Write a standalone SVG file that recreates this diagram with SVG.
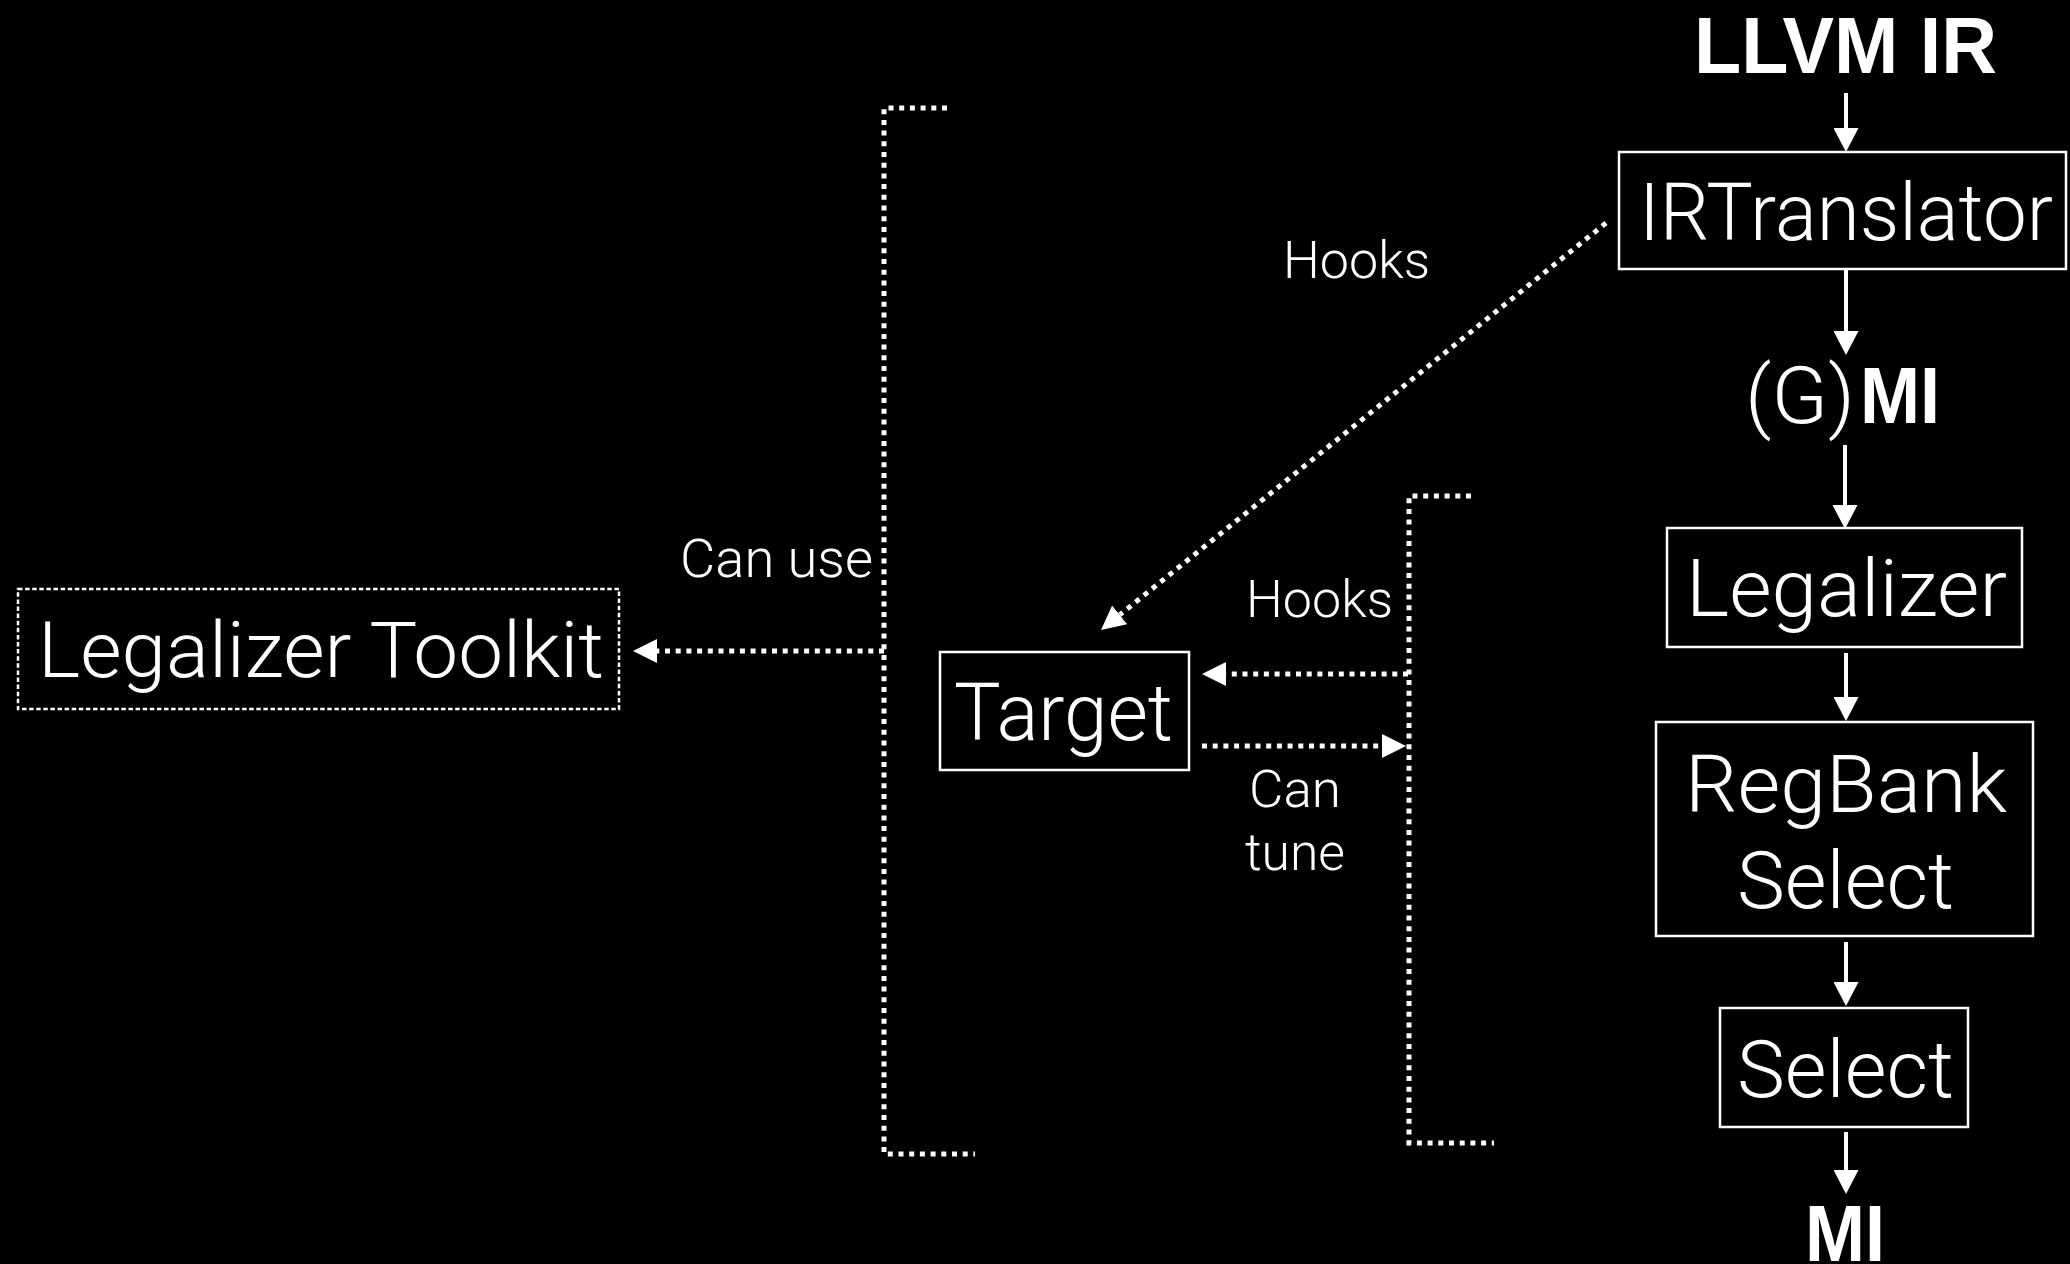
<svg xmlns="http://www.w3.org/2000/svg" width="2070" height="1264" viewBox="0 0 2070 1264">
  <defs>
    <style>
      .lt { font-family: Roboto, "Liberation Sans", sans-serif; font-weight: 300; fill: #fff; }
      .bd { font-family: "Liberation Sans", Arial, sans-serif; font-weight: 700; fill: #fff; }
      .box { fill: none; stroke: #fff; stroke-width: 2.5; }
      .solid { fill: none; stroke: #fff; stroke-width: 4; }
      .dot { fill: none; stroke: #fff; stroke-width: 5; stroke-dasharray: 5 5.7; }
    </style>
    <marker id="ah" viewBox="0 -12 24 24" refX="0" refY="0" markerWidth="24" markerHeight="24" markerUnits="userSpaceOnUse" orient="auto">
      <path d="M0,-12 L24,0 L0,12 Z" fill="#fff"/>
    </marker>
    <marker id="ahs" viewBox="0 -12.5 24 25" refX="0" refY="0" markerWidth="24" markerHeight="25" markerUnits="userSpaceOnUse" orient="auto">
      <path d="M0,-12.5 L24,0 L0,12.5 Z" fill="#fff"/>
    </marker>
  </defs>
  <rect x="0" y="0" width="2070" height="1264" fill="#000"/>

  <g id="connectors">
    <line class="solid" x1="1846" y1="93" x2="1846" y2="128" marker-end="url(#ahs)"/>
    <line class="solid" x1="1846" y1="270" x2="1846" y2="331" marker-end="url(#ahs)"/>
    <line class="solid" x1="1845" y1="445" x2="1845" y2="505" marker-end="url(#ahs)"/>
    <line class="solid" x1="1846" y1="653" x2="1846" y2="697" marker-end="url(#ahs)"/>
    <line class="solid" x1="1846" y1="942" x2="1846" y2="982" marker-end="url(#ahs)"/>
    <line class="solid" x1="1846" y1="1132" x2="1846" y2="1170" marker-end="url(#ahs)"/>
    <line class="dot" x1="1606" y1="223" x2="1119.7" y2="614.9" marker-end="url(#ah)"/>
    <line class="dot" x1="1408" y1="674" x2="1226" y2="674" marker-end="url(#ah)"/>
    <line class="dot" x1="1202" y1="746" x2="1382" y2="746" marker-end="url(#ah)"/>
    <line class="dot" x1="884" y1="651" x2="657" y2="651" marker-end="url(#ah)"/>
    <path class="dot" d="M947,108 H884 V1154 H975"/>
    <path class="dot" d="M1471,496 H1409 V1143 H1494"/>
  </g>

  <g id="llvm-ir">
    <text class="bd" x="1694" y="73" font-size="79" textLength="303" lengthAdjust="spacingAndGlyphs">LLVM IR</text>
  </g>
  <g id="irtranslator">
    <rect class="box" x="1619" y="152" width="447" height="117"/>
    <text class="lt" x="1639" y="240" font-size="80" textLength="414" lengthAdjust="spacingAndGlyphs">IRTranslator</text>
  </g>
  <g id="gmi">
    <text class="lt" x="1745" y="423" font-size="80" textLength="110" lengthAdjust="spacingAndGlyphs">(G)</text>
    <text class="bd" x="1860" y="423" font-size="80" textLength="80" lengthAdjust="spacingAndGlyphs">MI</text>
  </g>
  <g id="legalizer">
    <rect class="box" x="1667" y="528" width="355" height="119"/>
    <text class="lt" x="1686" y="616" font-size="80" textLength="321" lengthAdjust="spacingAndGlyphs">Legalizer</text>
  </g>
  <g id="regbankselect">
    <rect class="box" x="1656" y="722" width="377" height="214"/>
    <text class="lt" x="1685" y="812" font-size="80" textLength="322" lengthAdjust="spacingAndGlyphs">RegBank</text>
    <text class="lt" x="1737" y="908" font-size="80" textLength="217" lengthAdjust="spacingAndGlyphs">Select</text>
  </g>
  <g id="select">
    <rect class="box" x="1720" y="1008" width="248" height="119"/>
    <text class="lt" x="1737" y="1097" font-size="80" textLength="217" lengthAdjust="spacingAndGlyphs">Select</text>
  </g>
  <g id="mi">
    <text class="bd" x="1805" y="1261" font-size="80" textLength="80" lengthAdjust="spacingAndGlyphs">MI</text>
  </g>
  <g id="target">
    <rect class="box" x="940" y="652" width="249" height="118"/>
    <text class="lt" x="954" y="740" font-size="80" textLength="219" lengthAdjust="spacingAndGlyphs">Target</text>
  </g>
  <g id="legalizer-toolkit">
    <rect x="18" y="589" width="601" height="120" fill="none" stroke="#fff" stroke-width="2.5" stroke-dasharray="4.5 2.6"/>
    <text class="lt" x="38" y="677" font-size="77" textLength="566" lengthAdjust="spacingAndGlyphs">Legalizer Toolkit</text>
  </g>
  <g id="labels">
    <text class="lt" x="1283" y="278" font-size="52" textLength="147" lengthAdjust="spacingAndGlyphs">Hooks</text>
    <text class="lt" x="1246" y="617" font-size="52" textLength="147" lengthAdjust="spacingAndGlyphs">Hooks</text>
    <text class="lt" x="680" y="577" font-size="53" textLength="193" lengthAdjust="spacingAndGlyphs">Can use</text>
    <text class="lt" x="1249" y="807" font-size="52" textLength="92" lengthAdjust="spacingAndGlyphs">Can</text>
    <text class="lt" x="1245" y="870" font-size="52" textLength="100" lengthAdjust="spacingAndGlyphs">tune</text>
  </g>
</svg>
